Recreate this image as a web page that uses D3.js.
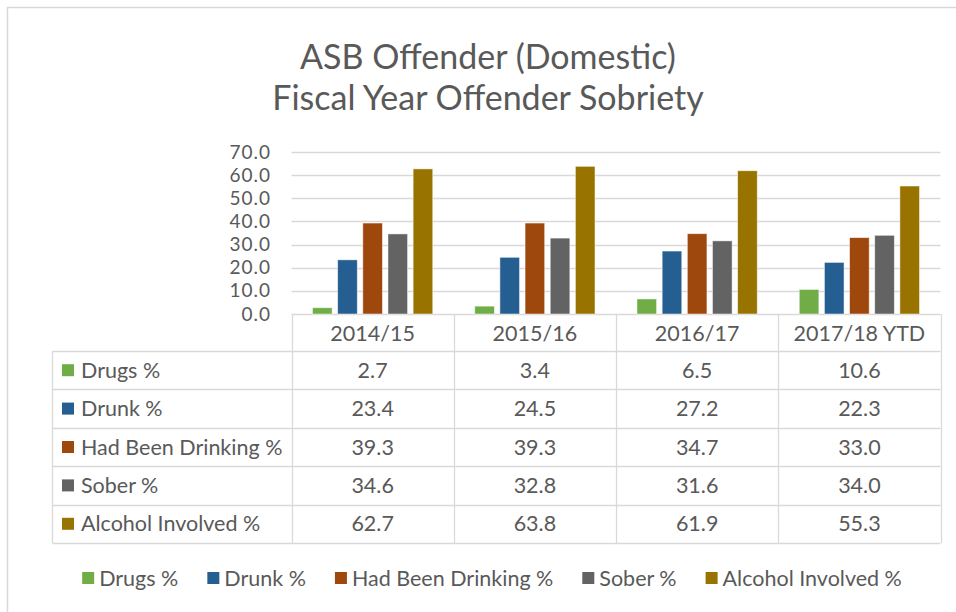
<!DOCTYPE html>
<html><head><meta charset="utf-8">
<script src="https://cdn.jsdelivr.net/npm/d3@7"></script>
<style>body{margin:0;background:#fff} svg{display:block}</style>
</head><body><svg id="c" width="956" height="612"></svg>
<script>
const categories = ["2014/15","2015/16","2016/17","2017/18 YTD"];
const seriesNames = ["Drugs %","Drunk %","Had Been Drinking %","Sober %","Alcohol Involved %"];
const drugs = [2.7,3.4,6.5,10.6];
const drunk = [23.4,24.5,27.2,22.3];
const hadBeenDrinking = [39.3,39.3,34.7,33.0];
const sober = [34.6,32.8,31.6,34.0];
const alcoholInvolved = [62.7,63.8,61.9,55.3];
const seriesColors = ["#70AD47","#255E91","#9E480E","#636363","#997300"];
const yTicks = [0,10,20,30,40,50,60,70];
const titleLines = ["ASB Offender (Domestic)","Fiscal Year Offender Sobriety"];

const seriesValues = [drugs, drunk, hadBeenDrinking, sober, alcoholInvolved];
const FONT = "Lato, 'Open Sans', sans-serif";
const TXT = "#595959";
const GRID = "#d9d9d9";
const FS = 21.5;

const svg = d3.select("#c");
svg.append("rect").attr("width",956).attr("height",612).attr("fill","#fff");
svg.append("rect").attr("x",7.5).attr("y",7.5).attr("width",1000).attr("height",700)
  .attr("fill","none").attr("stroke",GRID).attr("stroke-width",1.5);

// title
svg.selectAll("text.title").data(titleLines).join("text")
  .attr("class","title").attr("x",488).attr("y",(d,i)=>69+i*41)
  .attr("text-anchor","middle").attr("font-family",FONT).attr("font-size",34)
  .attr("fill",TXT).text(d=>d);

const left = 291.5, right = 940.5, tableLeft = 52.5;
const x = d3.scaleBand().domain(categories).range([left,right]).padding(0);
const xs = d3.scaleBand().domain(seriesNames).range([21, x.bandwidth()-21]).paddingInner(0.22);
const y = d3.scaleLinear().domain([0,70]).range([314,152]);

// gridlines
svg.append("g").selectAll("line").data(yTicks).join("line")
  .attr("x1",left).attr("x2",right)
  .attr("y1",d=>Math.round(y(d))+0.5).attr("y2",d=>Math.round(y(d))+0.5)
  .attr("stroke",GRID).attr("stroke-width",1.3);

// y labels
const yAxis = d3.axisLeft(y).tickValues(yTicks).tickFormat(d3.format(".1f")).tickSize(0).tickPadding(0);
const ga = svg.append("g").attr("transform","translate(271,0)").call(yAxis);
ga.select(".domain").remove();
ga.selectAll("text").attr("font-family",FONT).attr("font-size",19).attr("letter-spacing","1px").attr("fill",TXT);

// bars
const groups = svg.append("g").selectAll("g").data(categories).join("g")
  .attr("transform",d=>`translate(${x(d)},0)`);
groups.selectAll("rect").data((c,ci)=>seriesNames.map((s,si)=>({s,si,v:seriesValues[si][ci]}))).join("rect")
  .attr("x",d=>xs(d.s)).attr("width",xs.bandwidth())
  .attr("y",d=>y(d.v)).attr("height",d=>y(0)-y(d.v))
  .attr("fill",d=>seriesColors[d.si]).attr("stroke","#ffffff").attr("stroke-opacity",0.6).attr("stroke-width",0.8);

// table
const rowY = d3.scaleBand().domain(seriesNames).range([351,543]);
const tbl = svg.append("g").attr("stroke",GRID).attr("stroke-width",1.3).attr("fill","none");
[...categories.map(c=>x(c)), right].forEach(xx=>{
  tbl.append("line").attr("x1",Math.round(xx)+0.5).attr("x2",Math.round(xx)+0.5).attr("y1",314).attr("y2",543);
});
tbl.append("line").attr("x1",tableLeft).attr("x2",tableLeft).attr("y1",351).attr("y2",543);
[351, ...seriesNames.map(s=>rowY(s)+rowY.bandwidth())].forEach(yy=>{
  tbl.append("line").attr("x1",tableLeft).attr("x2",right).attr("y1",Math.round(yy)+0.5).attr("y2",Math.round(yy)+0.5);
});

// category labels
svg.append("g").selectAll("text").data(categories).join("text")
  .attr("x",d=>x(d)+x.bandwidth()/2).attr("y",333).attr("dy","0.35em")
  .attr("text-anchor","middle").attr("font-family",FONT).attr("font-size",FS).attr("fill",TXT).text(d=>d);

// row headers
const rh = svg.append("g").selectAll("g").data(seriesNames).join("g")
  .attr("transform",d=>`translate(0,${rowY(d)+rowY.bandwidth()/2})`);
rh.append("rect").attr("x",62).attr("y",-6).attr("width",12).attr("height",12).attr("fill",(d,i)=>seriesColors[i]);
rh.append("text").attr("x",81).attr("dy","0.35em").attr("font-family",FONT).attr("font-size",FS).attr("fill",TXT).text(d=>d);

// cells
seriesNames.forEach((s,si)=>{
  svg.append("g").selectAll("text").data(categories).join("text")
    .attr("x",c=>x(c)+x.bandwidth()/2).attr("y",rowY(s)+rowY.bandwidth()/2).attr("dy","0.35em")
    .attr("text-anchor","middle").attr("font-family",FONT).attr("font-size",FS).attr("fill",TXT)
    .text((c,ci)=>d3.format(".1f")(seriesValues[si][ci]));
});

// legend
const lg = svg.append("g");
const items = lg.selectAll("g").data(seriesNames).join("g");
items.append("rect").attr("y",-6).attr("width",12).attr("height",12).attr("fill",(d,i)=>seriesColors[i]);
items.append("text").attr("x",17).attr("dy","0.35em").attr("font-family",FONT).attr("font-size",FS).attr("fill",TXT).text(d=>d);
const widths = [];
items.each(function(){ const w = 17 + d3.select(this).select("text").node().getComputedTextLength(); widths.push(w); });
const gap = 29;
const total = d3.sum(widths) + gap*(widths.length-1);
let start = 492 - total/2;
items.attr("transform",(d,i)=>{ const t = `translate(${start},578)`; start += widths[i]+gap; return t; });
</script></body></html>
